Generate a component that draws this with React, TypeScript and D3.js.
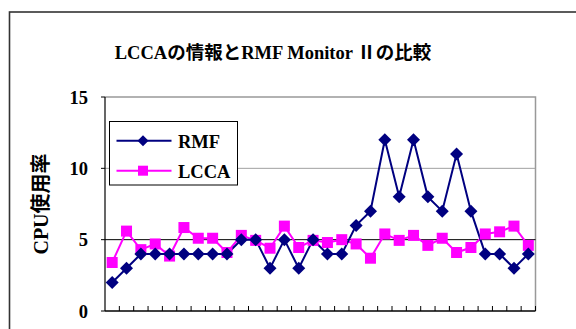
import React from "react";
import * as d3 from "d3";

const categories: number[] = Array.from({ length: 30 }, (_, i) => i + 1);
const rmfValues: number[] = [2, 3, 4, 4, 4, 4, 4, 4, 4, 5, 5, 3, 5, 3, 5, 4, 4, 6, 7, 12, 8, 12, 8, 7, 11, 7, 4, 4, 3, 4];
const lccaValues: number[] = [3.4, 5.6, 4.3, 4.7, 3.85, 5.85, 5.1, 5.1, 4.1, 5.3, 4.95, 4.4, 5.95, 4.45, 4.95, 4.8, 5.0, 4.7, 3.7, 5.4, 4.95, 5.3, 4.6, 5.1, 4.1, 4.45, 5.4, 5.55, 5.95, 4.6];
const yTicks: number[] = [0, 5, 10, 15];
const seriesNames = ["RMF", "LCCA"];
const title = "LCCAの情報とRMF Monitor Ⅱの比較";
const yLabel = "CPU使用率";

const W = 576, H = 329;
const L = 105, R = 535.5, T = 97, B = 311;
const NAVY = "#000080", MAGENTA = "#FF00FF";
const FONT = "'Liberation Serif', 'Times New Roman', 'Noto Sans CJK JP', serif";

export default function App() {
  const xBand = d3.scaleBand<number>().domain(categories).range([L, R]).paddingInner(0).paddingOuter(0);
  const xPoint = d3.scalePoint<number>().domain(categories).range([L, R]).padding(0.5);
  const y = d3.scaleLinear().domain([0, 15]).range([B, T]);

  const line = d3.line<number>().x((_, i) => xPoint(categories[i])!).y((d) => y(d));

  const diamond = (cx: number, cy: number, r: number) =>
    `M${cx},${cy - r}L${cx + r},${cy}L${cx},${cy + r}L${cx - r},${cy}Z`;

  return (
    <svg width={W} height={H} style={{ position: "absolute", left: 0, top: 0, display: "block" }}>
      <rect x={0} y={0} width={W} height={H} fill="#fff" />
      {/* outer frame */}
      <rect x={9.5} y={12} width={W + 20} height={H + 20} fill="none" stroke="#333" strokeWidth={1.6} />
      {/* title */}
      <text x={273} y={59} textAnchor="middle" fontFamily={FONT} fontWeight="bold" fontSize={18.5}>
        {title}
      </text>
      {/* plot border top/right gray */}
      <path d={`M${L},${T}H${R}V${B}`} fill="none" stroke="#999" strokeWidth={1.5} />
      {/* gridlines */}
      {yTicks.filter((t) => t > 0 && t < 15).map((t) => (
        <line key={t} x1={L} x2={R} y1={y(t)} y2={y(t)} stroke={t === 5 ? "#000" : "#a0a0a0"} strokeWidth={1} />
      ))}
      {/* axes */}
      <line x1={L} x2={L} y1={T} y2={B} stroke="#000" strokeWidth={1.2} />
      <line x1={L} x2={R} y1={B} y2={B} stroke="#000" strokeWidth={1.5} />
      {categories.map((c) => (
        <line key={"t" + c} x1={xBand(c)! + xBand.bandwidth()} x2={xBand(c)! + xBand.bandwidth()} y1={B - 5} y2={B} stroke="#000" strokeWidth={1} />
      ))}
      {yTicks.map((t) => (
        <line key={"yt" + t} x1={L - 4} x2={L} y1={y(t)} y2={y(t)} stroke="#000" strokeWidth={1} />
      ))}
      {/* y tick labels */}
      {yTicks.map((t) => (
        <text key={"yl" + t} x={88} y={y(t) + 6.5} textAnchor="end" fontFamily={FONT} fontWeight="bold" fontSize={18.5}>
          {t}
        </text>
      ))}
      {/* y label */}
      <text transform={`translate(48,${(T + B) / 2}) rotate(-90)`} textAnchor="middle" fontFamily={FONT} fontWeight="bold" fontSize={20}>
        {yLabel}
      </text>
      {/* LCCA series */}
      <path d={line(lccaValues)!} fill="none" stroke={MAGENTA} strokeWidth={2} />
      {/* RMF series */}
      <path d={line(rmfValues)!} fill="none" stroke={NAVY} strokeWidth={2} />
      {lccaValues.map((v, i) => (
        <rect key={"s" + i} x={xPoint(categories[i])! - 5.5} y={y(v) - 5.5} width={11} height={11} fill={MAGENTA} />
      ))}
      {rmfValues.map((v, i) => (
        <path key={"d" + i} d={diamond(xPoint(categories[i])!, y(v), 6.5)} fill={NAVY} />
      ))}
      {/* legend */}
      <rect x={109.5} y={121.5} width={128} height={63.5} fill="#fff" stroke="#000" strokeWidth={1} />
      <line x1={116.5} x2={171.5} y1={140.7} y2={140.7} stroke={NAVY} strokeWidth={2} />
      <path d={diamond(143, 140.7, 5.5)} fill={NAVY} />
      <text x={178} y={147.5} fontFamily={FONT} fontWeight="bold" fontSize={18.5}>{seriesNames[0]}</text>
      <line x1={116.5} x2={171.5} y1={170.7} y2={170.7} stroke={MAGENTA} strokeWidth={2} />
      <rect x={138} y={165.7} width={10} height={10} fill={MAGENTA} />
      <text x={178} y={177.5} fontFamily={FONT} fontWeight="bold" fontSize={18.5}>{seriesNames[1]}</text>
    </svg>
  );
}
